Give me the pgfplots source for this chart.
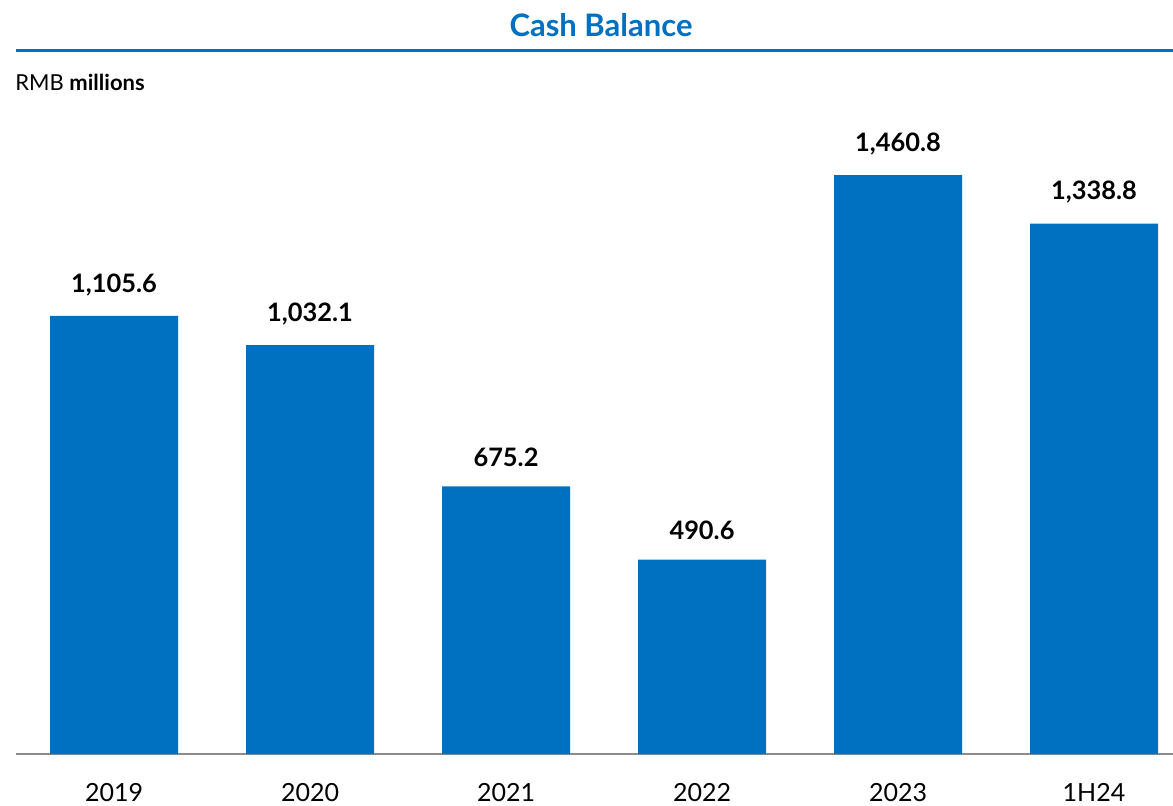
\documentclass[border=0pt]{standalone}
\usepackage{pgfplots}
\pgfplotsset{compat=1.18}
\usepackage{fontspec}
\setmainfont{Lato}
\definecolor{barblue}{HTML}{0070C0}
\definecolor{axgray}{HTML}{8C8C8C}
\begin{document}
\begin{tikzpicture}
\path[use as bounding box] (0,0) rectangle (586.5pt,402.5pt);
\begin{axis}[
  at={(8pt,25.5pt)}, anchor=south west,
  scale only axis, width=578.5pt, height=317pt,
  xmin=-0.5, xmax=5.403, ymin=0, ymax=1600,
  axis x line=bottom, axis y line=none,
  axis line style={-, axgray, line width=1pt},
  xtick=data, xticklabels={2019,2020,2021,2022,2023,1H24},
  major tick length=0pt,
  xticklabel style={font=\fontsize{12.5}{14}\selectfont, yshift=-11pt},
  ybar, bar width=64pt,
  nodes near coords={\pgfmathprintnumber[fixed,fixed zerofill,precision=1,1000 sep={,}]{\pgfplotspointmeta}},
  every node near coord/.append style={font=\bfseries\fontsize{12.7}{14}\selectfont, yshift=6.5pt, black},
  /pgf/number format/assume math mode=true,
  clip=false,
]
\addplot[fill=barblue, draw=none] coordinates {(0,1105.6) (1,1032.1) (2,675.2) (3,490.6) (4,1460.8) (5,1338.8)};
\end{axis}
\node[font=\bfseries\fontsize{15.5}{18}\selectfont, text=barblue] at (300.5pt,390pt) {Cash Balance};
\draw[barblue, line width=1.75pt] (8pt,377.25pt) -- (586.5pt,377.25pt);
\node[anchor=west, inner sep=0pt, font=\fontsize{11}{13}\selectfont] at (7.5pt,361.5pt) {RMB \textbf{millions}};
\end{tikzpicture}
\end{document}
